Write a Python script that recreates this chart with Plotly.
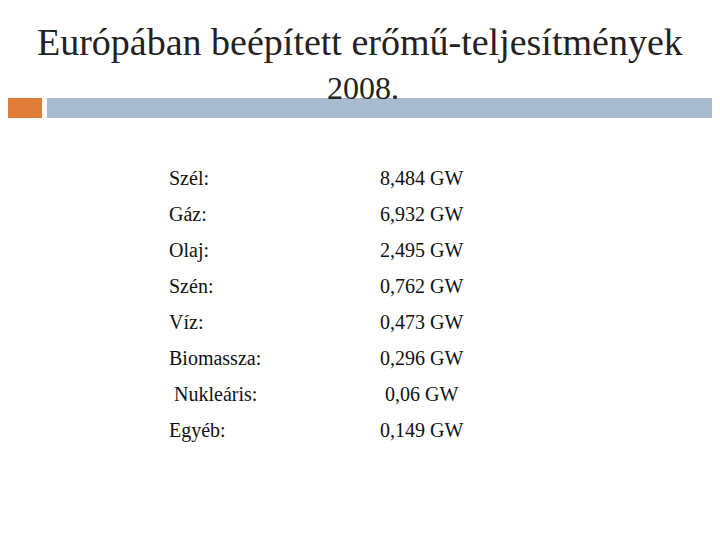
import plotly.graph_objects as go

labels = ["Szél:", "Gáz:", "Olaj:", "Szén:", "Víz:", "Biomassza:", " Nukleáris:", "Egyéb:"]
values = ["8,484 GW", "6,932 GW", "2,495 GW", "0,762 GW", "0,473 GW", "0,296 GW", " 0,06 GW", "0,149 GW"]
title1 = "Európában beépített erőmű-teljesítmények"
title2 = "2008."

fig = go.Figure()
font = "Liberation Serif, Times New Roman, serif"
shapes = [
    dict(type="rect", x0=0, x1=42, y0=98, y1=118, fillcolor="#E07B3A", line_width=0, xref="x", yref="y"),
    dict(type="rect", x0=47, x1=730, y0=98, y1=118, fillcolor="#A9BCCF", line_width=0, xref="x", yref="y"),
]
ann = [
    dict(x=360, y=42, text=title1, font=dict(size=38, family=font, color="#222"), showarrow=False, xanchor="center", yanchor="middle"),
    dict(x=363, y=88, text=title2, font=dict(size=32, family=font, color="#222"), showarrow=False, xanchor="center", yanchor="middle"),
]
for i, (l, v) in enumerate(zip(labels, values)):
    y = 178 + 36 * i
    xo = 5 if l.startswith(" ") else 0
    ann.append(dict(x=167 + xo, y=y, text=l.strip(), font=dict(size=20, family=font, color="#111"), showarrow=False, xanchor="left", yanchor="middle"))
    xo = 5 if v.startswith(" ") else 0
    ann.append(dict(x=378 + xo, y=y, text=v.strip(), font=dict(size=20, family=font, color="#111"), showarrow=False, xanchor="left", yanchor="middle"))

fig.update_layout(
    width=720, height=540, margin=dict(l=0, r=0, t=0, b=0),
    paper_bgcolor="white", plot_bgcolor="white",
    xaxis=dict(range=[8, 728], visible=False, fixedrange=True),
    yaxis=dict(range=[548, 8], visible=False, fixedrange=True),
    shapes=shapes, annotations=ann, showlegend=False,
)
fig.write_html("out.html")
